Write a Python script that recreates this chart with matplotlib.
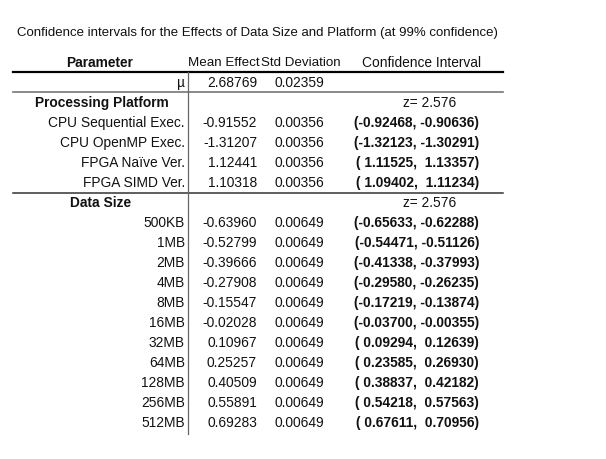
import matplotlib
matplotlib.use("Agg")
import matplotlib.pyplot as plt

# --- table data ---
title = "Confidence intervals for the Effects of Data Size and Platform (at 99% confidence)"
headers = ["Parameter", "Mean Effect", "Std Deviation", "Confidence Interval"]

mu_mean = 2.68769
mu_std = 0.02359

platform_z = 2.576
platform_labels = ["CPU Sequential Exec.", "CPU OpenMP Exec.", "FPGA Naïve Ver.", "FPGA SIMD Ver."]
platform_mean = [-0.91552, -1.31207, 1.12441, 1.10318]
platform_std = [0.00356, 0.00356, 0.00356, 0.00356]
platform_lo = [-0.92468, -1.32123, 1.11525, 1.09402]
platform_hi = [-0.90636, -1.30291, 1.13357, 1.11234]

size_z = 2.576
size_labels = ["500KB", "1MB", "2MB", "4MB", "8MB", "16MB", "32MB", "64MB", "128MB", "256MB", "512MB"]
size_mean = [-0.63960, -0.52799, -0.39666, -0.27908, -0.15547, -0.02028,
             0.10967, 0.25257, 0.40509, 0.55891, 0.69283]
size_std = [0.00649] * 11
size_lo = [-0.65633, -0.54471, -0.41338, -0.29580, -0.17219, -0.03700,
           0.09294, 0.23585, 0.38837, 0.54218, 0.67611]
size_hi = [-0.62288, -0.51126, -0.37993, -0.26235, -0.13874, -0.00355,
           0.12639, 0.26930, 0.42182, 0.57563, 0.70956]

plt.rcParams['font.family'] = ['Liberation Sans', 'DejaVu Sans']
FS = 9.9
TXT = "#111111"


def ci_text(lo, hi):
    a = f"{lo:.5f}" if lo < 0 else f" {lo:.5f}"
    b = f"{hi:.5f}" if hi < 0 else f" {hi:.5f}"
    return f"({a}, {b})"


def data_row(ax, y, label, mean, std, lo, hi):
    ax.text(185, y, label, ha='right', va='center', fontsize=FS, color=TXT)
    ax.text(257, y, f"{mean:.5f}", ha='right', va='center', fontsize=FS, color=TXT)
    ax.text(324, y, f"{std:.5f}", ha='right', va='center', fontsize=FS, color=TXT)
    ax.text(479, y, ci_text(lo, hi), ha='right', va='center', fontsize=FS,
            color=TXT, fontweight='bold')


def main():
    fig = plt.figure(figsize=(6.06, 4.6), dpi=100)
    ax = fig.add_axes([0, 0, 1, 1])
    ax.set_xlim(0, 606)
    ax.set_ylim(460, 0)
    ax.axis('off')

    ax.text(257, 33, title, ha='center', va='center', fontsize=9.5, color=TXT)

    # header
    ax.text(100, 63, headers[0], ha='center', va='center', fontsize=FS,
            fontweight='bold', color=TXT)
    ax.text(224, 63, headers[1], ha='center', va='center', fontsize=9.6, color=TXT)
    ax.text(300.5, 63, headers[2], ha='center', va='center', fontsize=9.6, color=TXT)
    ax.text(422, 63, headers[3], ha='center', va='center', fontsize=FS, color=TXT)
    ax.plot([13, 503], [73, 73], color='black', lw=1.6)

    # mu row
    ax.text(185, 83, "µ", ha='right', va='center', fontsize=FS, color=TXT)
    ax.text(257, 83, f"{mu_mean:.5f}", ha='right', va='center', fontsize=FS, color=TXT)
    ax.text(324, 83, f"{mu_std:.5f}", ha='right', va='center', fontsize=FS, color=TXT)
    ax.plot([13, 503], [93, 93], color='#777777', lw=1.2)

    # processing platform block
    ax.text(35, 103, "Processing Platform", ha='left', va='center', fontsize=FS,
            fontweight='bold', color=TXT)
    ax.text(403, 103, f"z= {platform_z}", ha='left', va='center', fontsize=FS, color=TXT)
    y = 123
    for i, lab in enumerate(platform_labels):
        data_row(ax, y, lab, platform_mean[i], platform_std[i], platform_lo[i], platform_hi[i])
        y += 20
    ax.plot([13, 503], [194, 194], color='#333333', lw=1.1)

    # data size block
    ax.text(70, 203, "Data Size", ha='left', va='center', fontsize=FS,
            fontweight='bold', color=TXT)
    ax.text(403, 203, f"z= {size_z}", ha='left', va='center', fontsize=FS, color=TXT)
    y = 223
    for i, lab in enumerate(size_labels):
        data_row(ax, y, lab, size_mean[i], size_std[i], size_lo[i], size_hi[i])
        y += 20

    # vertical separator
    ax.plot([188, 188], [73, 435], color='#666666', lw=0.9)

    fig.savefig("out.png", dpi=100)


if __name__ == "__main__":
    main()
